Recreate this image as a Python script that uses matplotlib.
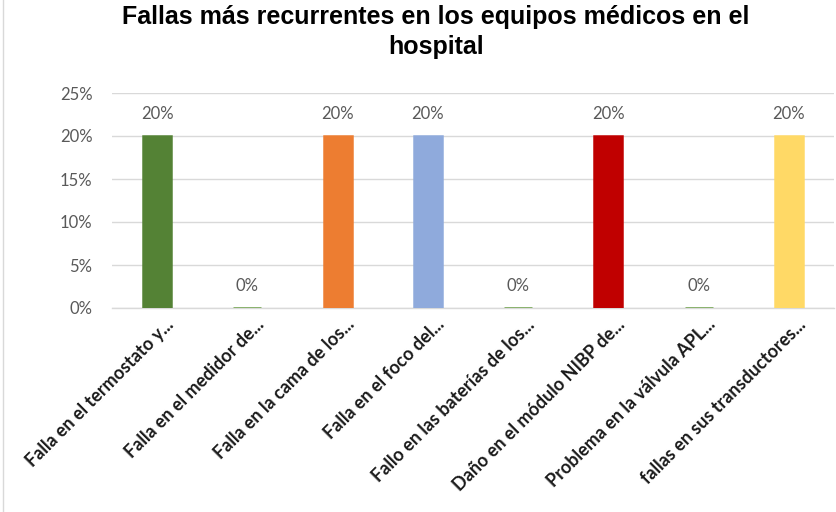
import matplotlib
matplotlib.use("Agg")
import matplotlib.pyplot as plt
from matplotlib.lines import Line2D
from matplotlib.ticker import FuncFormatter
from matplotlib.transforms import ScaledTranslation

categories = [
    "Falla en el termostato y...",
    "Falla en el medidor de...",
    "Falla en la cama de los...",
    "Falla en el foco del...",
    "Fallo en las baterías de los...",
    "Daño en el módulo NIBP de...",
    "Problema en la válvula APL...",
    "fallas en sus transductores...",
]
values = [0.20, 0.0, 0.20, 0.20, 0.0, 0.20, 0.0, 0.20]
colors = ["#548235", "#6A9F45", "#ED7D31", "#8FAADC",
          "#6A9F45", "#C00000", "#6A9F45", "#FFD966"]
y_ticks = [0.0, 0.05, 0.10, 0.15, 0.20, 0.25]
title = "Fallas más recurrentes en los equipos médicos en el\nhospital"

W, H = 837, 512
fig = plt.figure(figsize=(W / 100, H / 100), dpi=100)
ax = fig.add_axes([112 / W, 1 - 308 / H, (834 - 112) / W, (308 - 93) / H])

x = list(range(len(categories)))
bars = ax.bar(x, values, width=0.31, color=colors, edgecolor=colors,
              linewidth=1.8, zorder=3)

ax.set_xlim(-0.5, len(categories) - 0.5)
ax.set_ylim(0, 0.25)
ax.set_yticks(y_ticks)
ax.yaxis.set_major_formatter(FuncFormatter(lambda v, _: f"{v * 100:.0f}%"))
ax.grid(axis="y", color="#D9D9D9", linewidth=1, zorder=0)
for s in ["top", "right", "left"]:
    ax.spines[s].set_visible(False)
ax.spines["bottom"].set_color("#D9D9D9")
ax.spines["bottom"].set_linewidth(1)
ax.tick_params(axis="both", length=0)
ax.tick_params(axis="y", labelsize=12, labelcolor="#595959", pad=14)
for lbl in ax.get_yticklabels():
    lbl.set_fontfamily("Lato")

ax.set_xticks(x)
ax.set_xticklabels(categories, rotation=45, ha="right", va="center",
                   rotation_mode="anchor", fontsize=13, fontweight="bold",
                   fontfamily="Lato", color="#1a1a1a")
ax.tick_params(axis="x", pad=10)
shift = ScaledTranslation(14 / 100, 0, fig.dpi_scale_trans)
for lbl in ax.get_xticklabels():
    lbl.set_transform(lbl.get_transform() + shift)

for xi, v in zip(x, values):
    ax.annotate(f"{v * 100:.0f}%", (xi, v), xytext=(0, 10),
                textcoords="offset points", ha="center", va="bottom",
                fontsize=12, color="#595959", fontfamily="Lato")

fig.text(436 / W, 1 - 5 / H, title, ha="center", va="top", fontsize=18,
         fontweight="bold", fontfamily="Liberation Sans", color="#000000",
         linespacing=1.3)

fig.add_artist(Line2D([3.5 / W, 3.5 / W], [0, 1], color="#D9D9D9",
                      linewidth=1, transform=fig.transFigure))

fig.savefig("out.png", dpi=100)
